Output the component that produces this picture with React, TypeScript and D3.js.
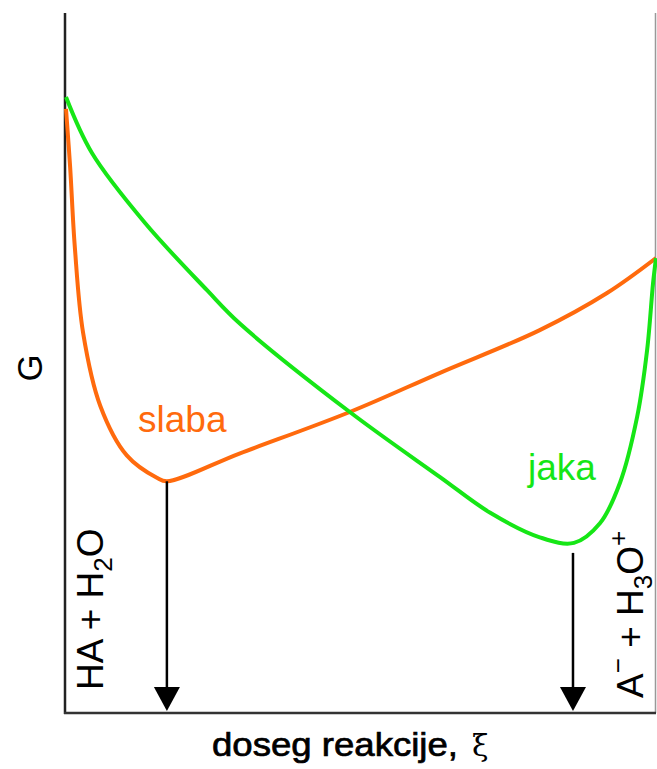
import React from "react";
import * as d3 from "d3";

// reaction extent (0..1) and Gibbs energy (arbitrary units, 0..100)
const slabaXi = [0, 0.007, 0.015, 0.029, 0.058, 0.103, 0.154, 0.171, 0.295, 0.481, 0.634, 0.803, 0.917, 1.0];
const slabaG = [86.3, 78.0, 66.5, 54.3, 43.9, 36.8, 33.6, 33.1, 37.1, 43.0, 48.6, 54.7, 60.0, 65.0];

const jakaXi = [0, 0.044, 0.134, 0.239, 0.295, 0.481, 0.634, 0.719, 0.803, 0.861, 0.905, 0.939, 0.968, 0.985, 0.995, 1.0];
const jakaG = [88.0, 80.0, 70.0, 60.4, 55.6, 43.0, 33.7, 28.6, 25.1, 24.3, 27.1, 32.9, 42.3, 51.9, 61.4, 65.0];

const ORANGE = "#ff6a0d";
const GREEN = "#16e616";

const W = 657;
const H = 769;
const margin = { top: 13, right: 1, bottom: 56, left: 66 };

const App = () => {
  const x = d3.scaleLinear().domain([0, 1]).range([margin.left, W - margin.right]);
  const y = d3.scaleLinear().domain([0, 100]).range([H - margin.bottom, margin.top]);

  const line = d3
    .line<[number, number]>()
    .x((d) => x(d[0]))
    .y((d) => y(d[1]))
    .curve(d3.curveCatmullRom.alpha(0.5));

  const slaba = slabaXi.map((v, i) => [v, slabaG[i]] as [number, number]);
  const jaka = jakaXi.map((v, i) => [v, jakaG[i]] as [number, number]);

  const minOf = (pts: [number, number][]) => pts.reduce((a, b) => (b[1] < a[1] ? b : a));
  const slabaMin = minOf(slaba);
  const jakaMin = minOf(jaka);

  const y0 = y(0);
  const arrows = [
    { px: x(slabaMin[0]), top: y(slabaMin[1]) },
    { px: x(jakaMin[0]) - 1, top: y(jakaMin[1]) + 10 }
  ];
  const head = 26;

  return (
    <svg
      width={W}
      height={H}
      style={{ position: "absolute", left: 0, top: 0, background: "#fff" }}
      fontFamily="'Liberation Sans', Arial, sans-serif"
    >
      {/* frame */}
      <line x1={x(1) - 0.5} x2={x(1) - 0.5} y1={y(100)} y2={y0} stroke="#999" strokeWidth={1.5} />
      <line x1={x(0) - 1} x2={x(0) - 1} y1={y(100)} y2={y0 + 1} stroke="#222" strokeWidth={2.5} />
      <line x1={x(0) - 2} x2={x(1)} y1={y0} y2={y0} stroke="#333" strokeWidth={2.5} />

      {/* curves */}
      <path d={line(slaba) || ""} fill="none" stroke={ORANGE} strokeWidth={4} strokeLinejoin="round" />
      <path d={line(jaka) || ""} fill="none" stroke={GREEN} strokeWidth={4} strokeLinejoin="round" />

      {/* arrows down to the axis */}
      {arrows.map((a, i) => (
        <g key={i}>
          <line x1={a.px} x2={a.px} y1={a.top} y2={y0 - head + 2} stroke="#000" strokeWidth={2.5} />
          <path
            d={`M${a.px - 13},${y0 - head} L${a.px + 13},${y0 - head} L${a.px},${y0 - 2} Z`}
            fill="#000"
          />
        </g>
      ))}

      {/* curve labels */}
      <text x={138} y={432} fontSize={37} fill={ORANGE}>slaba</text>
      <text x={528} y={480} fontSize={37} fill={GREEN}>jaka</text>

      {/* species labels */}
      <text transform="translate(103,690) rotate(-90)" fontSize={37} fill="#000">
        HA + H
        <tspan fontSize={26} dy={9}>2</tspan>
        <tspan dy={-9}>O</tspan>
      </text>
      <text transform="translate(643,698) rotate(-90)" fontSize={37} fill="#000">
        A
        <tspan fontSize={26} dy={-16}>−</tspan>
        <tspan dy={16}> + H</tspan>
        <tspan fontSize={26} dy={9}>3</tspan>
        <tspan dy={-9}>O</tspan>
        <tspan fontSize={26} dy={-16}>+</tspan>
      </text>

      {/* axis titles */}
      <text transform="translate(42,368) rotate(-90)" fontSize={35} textAnchor="middle" fill="#000">
        G
      </text>
      <text
        x={212}
        y={756}
        fontSize={33}
        fill="#000"
        stroke="#000"
        strokeWidth={0.7}
        textLength={246}
        lengthAdjust="spacingAndGlyphs"
      >
        doseg reakcije,
      </text>
      <text x={472} y={756} fontFamily="'DejaVu Serif', serif" fontSize={30} fill="#000">
        ξ
      </text>
    </svg>
  );
};

export default App;
